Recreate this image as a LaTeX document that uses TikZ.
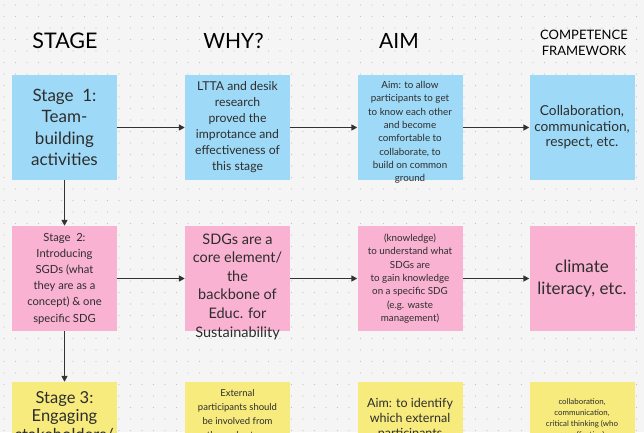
\documentclass[tikz,border=0pt]{standalone}
\usepackage{fontspec}
\setmainfont{Lato}
\usetikzlibrary{arrows.meta,calc}
\definecolor{bgc}{RGB}{245,245,245}
\definecolor{dotc}{RGB}{196,196,196}
\definecolor{stblue}{RGB}{158,218,247}
\definecolor{stpink}{RGB}{249,178,209}
\definecolor{styellow}{RGB}{247,235,125}
\definecolor{txtc}{RGB}{45,45,45}
\definecolor{arrc}{RGB}{50,50,50}
\newcommand{\fs}[2]{\fontsize{#1}{#2}\selectfont}
\tikzset{
  box/.style={draw=none, fill=#1, minimum width=105pt, minimum height=105pt, inner sep=0pt},
  txt/.style={align=center, inner sep=0pt, text=txtc},
  hdr/.style={inner sep=0pt, text=black},
  conn/.style={draw=arrc, line width=1.5pt, -{Triangle[length=6pt,width=6pt]}}
}
\begin{document}
\begin{tikzpicture}[x=1pt,y=-1pt]
\useasboundingbox (0,0) rectangle (644,432);
\clip (0,0) rectangle (644,432);
\fill[bgc] (0,0) rectangle (644,432);
\foreach \i in {0,...,56}{
  \foreach \j in {0,...,38}{
    \fill[dotc] (4+11.5*\i,5+11.5*\j) circle (0.6pt);
  }
}
% headers
\node[hdr, font=\fs{21.5}{24}] (h1) at (65,41) {STAGE};
\node[hdr, font=\fs{21}{24}] (h2) at (233.5,41) {WHY?};
\node[hdr, font=\fs{21}{24}] (h3) at (399,41) {AIM};
\node[hdr, font=\fs{13}{16.5}, align=center] (h4) at (584,43) {COMPETENCE\\FRAMEWORK};
% row 1
\node[box=stblue] (s1) at (64.5,127.5) {};
\node[box=stblue] (w1) at (237.5,127.5) {};
\node[box=stblue] (a1) at (410,127.5) {};
\node[box=stblue] (c1) at (582,127.5) {};
\node[txt, font=\fs{17}{21.3}] (ts1) at (s1) {Stage\ \ 1:\\ Team-\\building\\activities};
\node[txt, font=\fs{12.2}{16}] (tw1) at (w1) {LTTA and desik\\research\\proved the\\improtance and\\effectiveness of\\this stage};
\node[txt, font=\fs{9.8}{13.3}] (ta1) at ($(a1)+(0,5)$) {Aim: to allow\\participants to get\\to know each other\\and become\\comfortable to\\collaborate, to\\build on common\\ground};
\node[txt, font=\fs{13.7}{15.5}] (tc1) at (c1) {Collaboration,\\communication,\\respect, etc.};
% row 2
\node[box=stpink] (s2) at (64.5,278.5) {};
\node[box=stpink] (w2) at (237.5,278.5) {};
\node[box=stpink] (a2) at (410,278.5) {};
\node[box=stpink] (c2) at (582,278.5) {};
\node[txt, font=\fs{11.2}{16.2}] (ts2) at (s2) {Stage\ \ 2:\\Introducing\\SGDs (what\\they are as a\\concept) \& one\\specific SDG};
\node[txt, font=\fs{14.5}{18.6}] (tw2) at ($(w2)+(0,8)$) {SDGs are a\\core element/\\the\\backbone of\\Educ. for\\Sustainability};
\node[txt, font=\fs{9.8}{13.4}] (ta2) at (a2) {(knowledge)\\to understand what\\SDGs are\\to gain knowledge\\on a specific SDG\\(e.g. waste\\management)};
\node[txt, font=\fs{17}{22}] (tc2) at (c2) {climate\\literacy, etc.};
% row 3
\node[box=styellow] (s3) at (64.5,434.5) {};
\node[box=styellow] (w3) at (237.5,434.5) {};
\node[box=styellow] (a3) at (410,434.5) {};
\node[box=styellow] (c3) at (582,434.5) {};
\node[txt, font=\fs{16.5}{18.5}, anchor=north] (ts3) at (64.5,391) {Stage 3:\\Engaging\\stakeholders/};
\node[txt, font=\fs{9.5}{14}, anchor=north] (tw3) at (237.5,389) {External\\participants should\\be involved from\\the early stage};
\node[txt, font=\fs{12.5}{15}, anchor=north] (ta3) at (410,398.5) {Aim: to identify\\which external\\participants};
\node[txt, font=\fs{7.9}{11}, anchor=north] (tc3) at (582,398) {collaboration,\\communication,\\critical thinking (who\\are effective)};
% connectors
\draw[conn] (s1) -- (w1);
\draw[conn] (w1) -- (a1);
\draw[conn] (a1) -- (c1);
\draw[conn] (s2) -- (w2);
\draw[conn] (w2) -- (a2);
\draw[conn] (a2) -- (c2);
\draw[conn] (s1) -- (s2);
\draw[conn] (s2) -- (s3);
\end{tikzpicture}
\end{document}
